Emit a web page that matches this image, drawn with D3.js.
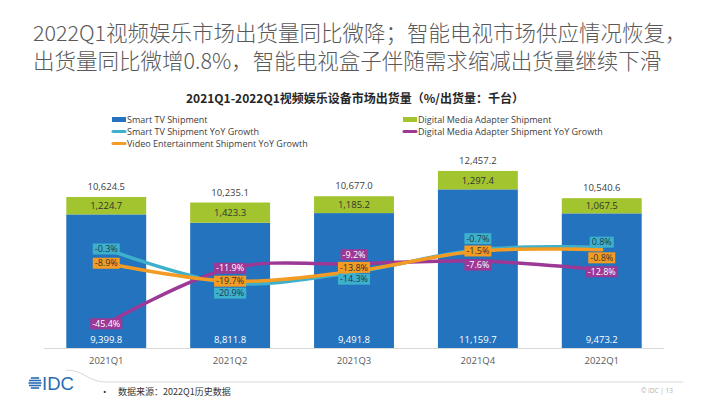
<!DOCTYPE html>
<html>
<head>
<meta charset="utf-8">
<script src="https://cdn.jsdelivr.net/npm/d3@7"></script>
<style>
  html, body { margin: 0; padding: 0; background: #fff; }
  svg { display: block; }
</style>
</head>
<body>
<svg id="chart" width="710" height="399"></svg>
<script>
// ---------- data ----------
const categories = ["2021Q1", "2021Q2", "2021Q3", "2021Q4", "2022Q1"];
const smartTV = [9399.8, 8811.8, 9491.8, 11159.7, 9473.2];
const dmaShip = [1224.7, 1423.3, 1185.2, 1297.4, 1067.5];
const totals = [10624.5, 10235.1, 10677.0, 12457.2, 10540.6];
const smartTVYoY = [-0.3, -20.9, -14.3, -0.7, 0.8];
const dmaYoY = [-45.4, -11.9, -9.2, -7.6, -12.8];
const videoYoY = [-8.9, -19.7, -13.8, -1.5, -0.8];

// ---------- layout / style ----------
const C = {
  blue: "#2373BE", green: "#A2C42E", cyan: "#3DB0CB", orange: "#F39B23", purple: "#9C3896",
  txt: "#404040", grey: "#595959"
};
const latin = "'Open Sans', 'Noto Sans', sans-serif";
const cjk = "'Noto Sans CJK SC', 'Open Sans', sans-serif";
// label vertical nudges (px) relative to the point
const labelNudge = {
  cyan: [0, 10, 7, -11, -5],
  purple: [0, 0, -9, 4, 2],
  orange: [0, 0, -4, 0, 8]
};

const svg = d3.select("#chart");

// ---------- titles ----------
const title = svg.append("g").attr("font-family", cjk).attr("font-size", 21.5)
  .attr("font-weight", 300).attr("fill", "#595959");
title.append("text").attr("x", 33).attr("y", 41)
  .text("2022Q1视频娱乐市场出货量同比微降；智能电视市场供应情况恢复，");
title.append("text").attr("x", 33).attr("y", 69)
  .text("出货量同比微增0.8%，智能电视盒子伴随需求缩减出货量继续下滑");

svg.append("text").attr("x", 355).attr("y", 103).attr("text-anchor", "middle")
  .attr("font-family", cjk).attr("font-size", 12).attr("font-weight", 700).attr("fill", "#262626")
  .text("2021Q1-2022Q1视频娱乐设备市场出货量（%/出货量：千台）");

// ---------- legend ----------
const legend = [
  { t: "Smart TV Shipment", c: C.blue, type: "rect", x: 112, y: 119.5 },
  { t: "Smart TV Shipment YoY Growth", c: C.cyan, type: "line", x: 112, y: 131.5 },
  { t: "Video Entertainment Shipment YoY Growth", c: C.orange, type: "line", x: 112, y: 143.5 },
  { t: "Digital Media Adapter Shipment", c: C.green, type: "rect", x: 403, y: 119.5 },
  { t: "Digital Media Adapter Shipment YoY Growth", c: C.purple, type: "line", x: 403, y: 131.5 }
];
const lg = svg.append("g");
legend.forEach(d => {
  if (d.type === "rect") {
    lg.append("rect").attr("x", d.x).attr("y", d.y - 2.5).attr("width", 14).attr("height", 5).attr("fill", d.c);
  } else {
    lg.append("line").attr("x1", d.x + 1).attr("x2", d.x + 13).attr("y1", d.y).attr("y2", d.y)
      .attr("stroke", d.c).attr("stroke-width", 3).attr("stroke-linecap", "round");
  }
  lg.append("text").attr("x", d.x + 15).attr("y", d.y + 3).attr("font-family", latin)
    .attr("font-size", 9).attr("fill", C.txt).text(d.t);
});

// ---------- scales ----------
const x = d3.scaleBand().domain(categories).range([44, 664]).paddingInner(0.355).paddingOuter(0.18);
const y = d3.scaleLinear().domain([0, 14000]).range([348, 149]);
const y2 = d3.scaleLinear().domain([-60, 60]).range([348, 149]);
const cx = i => x(categories[i]) + x.bandwidth() / 2;

// ---------- bars ----------
const bars = svg.append("g");
categories.forEach((c, i) => {
  bars.append("rect").attr("x", x(c)).attr("width", x.bandwidth())
    .attr("y", y(smartTV[i])).attr("height", y(0) - y(smartTV[i])).attr("fill", C.blue);
  bars.append("rect").attr("x", x(c)).attr("width", x.bandwidth())
    .attr("y", y(smartTV[i] + dmaShip[i])).attr("height", y(smartTV[i]) - y(smartTV[i] + dmaShip[i]))
    .attr("fill", C.green);
});
const fmt = d3.format(",.1f");
const vl = svg.append("g").attr("font-family", latin).attr("font-size", 9.5).attr("text-anchor", "middle");
categories.forEach((c, i) => {
  vl.append("text").attr("x", cx(i)).attr("y", y(smartTV[i] + dmaShip[i]) - 7).attr("fill", C.txt).text(fmt(totals[i]));
  vl.append("text").attr("x", cx(i)).attr("y", (y(smartTV[i]) + y(smartTV[i] + dmaShip[i])) / 2 + 3.5)
    .attr("fill", "#333").text(fmt(dmaShip[i]));
  vl.append("text").attr("x", cx(i)).attr("y", y(0) - 5).attr("fill", "#fff").text(fmt(smartTV[i]));
});

// ---------- axis ----------
const xAxis = svg.append("g").attr("transform", "translate(0,348)")
  .call(d3.axisBottom(x).tickSize(0).tickPadding(9));
xAxis.select(".domain").attr("stroke", "#d9d9d9").attr("d", "M44,0.5H664");
xAxis.selectAll("text").attr("font-family", latin).attr("font-size", 9.5).attr("fill", C.grey);

// ---------- lines ----------
const series = [
  { key: "cyan", vals: smartTVYoY, c: C.cyan, tc: "#1e3a4f" },
  { key: "purple", vals: dmaYoY, c: C.purple, tc: "#fff" },
  { key: "orange", vals: videoYoY, c: C.orange, tc: "#333" }
];
const line = d3.line().x((d, i) => cx(i)).y(d => y2(d)).curve(d3.curveCatmullRom.alpha(0.5));
const lines = svg.append("g");
series.forEach(s => {
  lines.append("path").attr("d", line(s.vals)).attr("fill", "none")
    .attr("stroke", s.c).attr("stroke-width", 3.5).attr("stroke-linecap", "round");
});
const labels = svg.append("g").attr("font-family", latin).attr("font-size", 9);
series.forEach(s => {
  s.vals.forEach((v, i) => {
    const g = labels.append("g");
    const ty = y2(v) + labelNudge[s.key][i];
    const t = g.append("text").attr("x", cx(i)).attr("y", ty + 3.2).attr("text-anchor", "middle")
      .attr("fill", s.tc).text(v.toFixed(1) + "%");
    const w = t.node().getComputedTextLength() + 4;
    g.insert("rect", "text").attr("x", cx(i) - w / 2).attr("y", ty - 5.5).attr("width", w).attr("height", 11)
      .attr("fill", s.c);
  });
});

// ---------- footer ----------
const ft = svg.append("g");
ft.append("path").attr("d", "M66,370 C84,370 88,382 106,382 L683,382")
  .attr("fill", "none").attr("stroke", "#d9d9d9").attr("stroke-width", 1);
// globe icon
const gl = ft.append("g").attr("fill", "#2a6cb5");
const gcx = 35, gcy = 383, gr = 6.5;
[-5, -2.5, 0, 2.5, 5].forEach(dy => {
  const hw = Math.sqrt(Math.max(0, gr * gr - dy * dy));
  gl.append("rect").attr("x", gcx - hw).attr("y", gcy + dy - 0.8).attr("width", hw * 2).attr("height", 1.6);
});
ft.append("text").attr("x", 42).attr("y", 390).attr("font-family", "'Liberation Sans', Arial, sans-serif")
  .attr("font-size", 18.5).attr("fill", "#2a6cb5").text("IDC");
ft.append("text").attr("x", 103).attr("y", 395).attr("font-family", latin).attr("font-size", 9)
  .attr("fill", "#333").text("•");
ft.append("text").attr("x", 118).attr("y", 395).attr("font-family", cjk).attr("font-size", 9)
  .attr("fill", "#333").text("数据来源：2022Q1历史数据");
ft.append("text").attr("x", 673).attr("y", 393).attr("text-anchor", "end").attr("font-family", latin)
  .attr("font-size", 6.5).attr("fill", "#b0b0b0").text("© IDC | 13");
</script>
</body>
</html>
